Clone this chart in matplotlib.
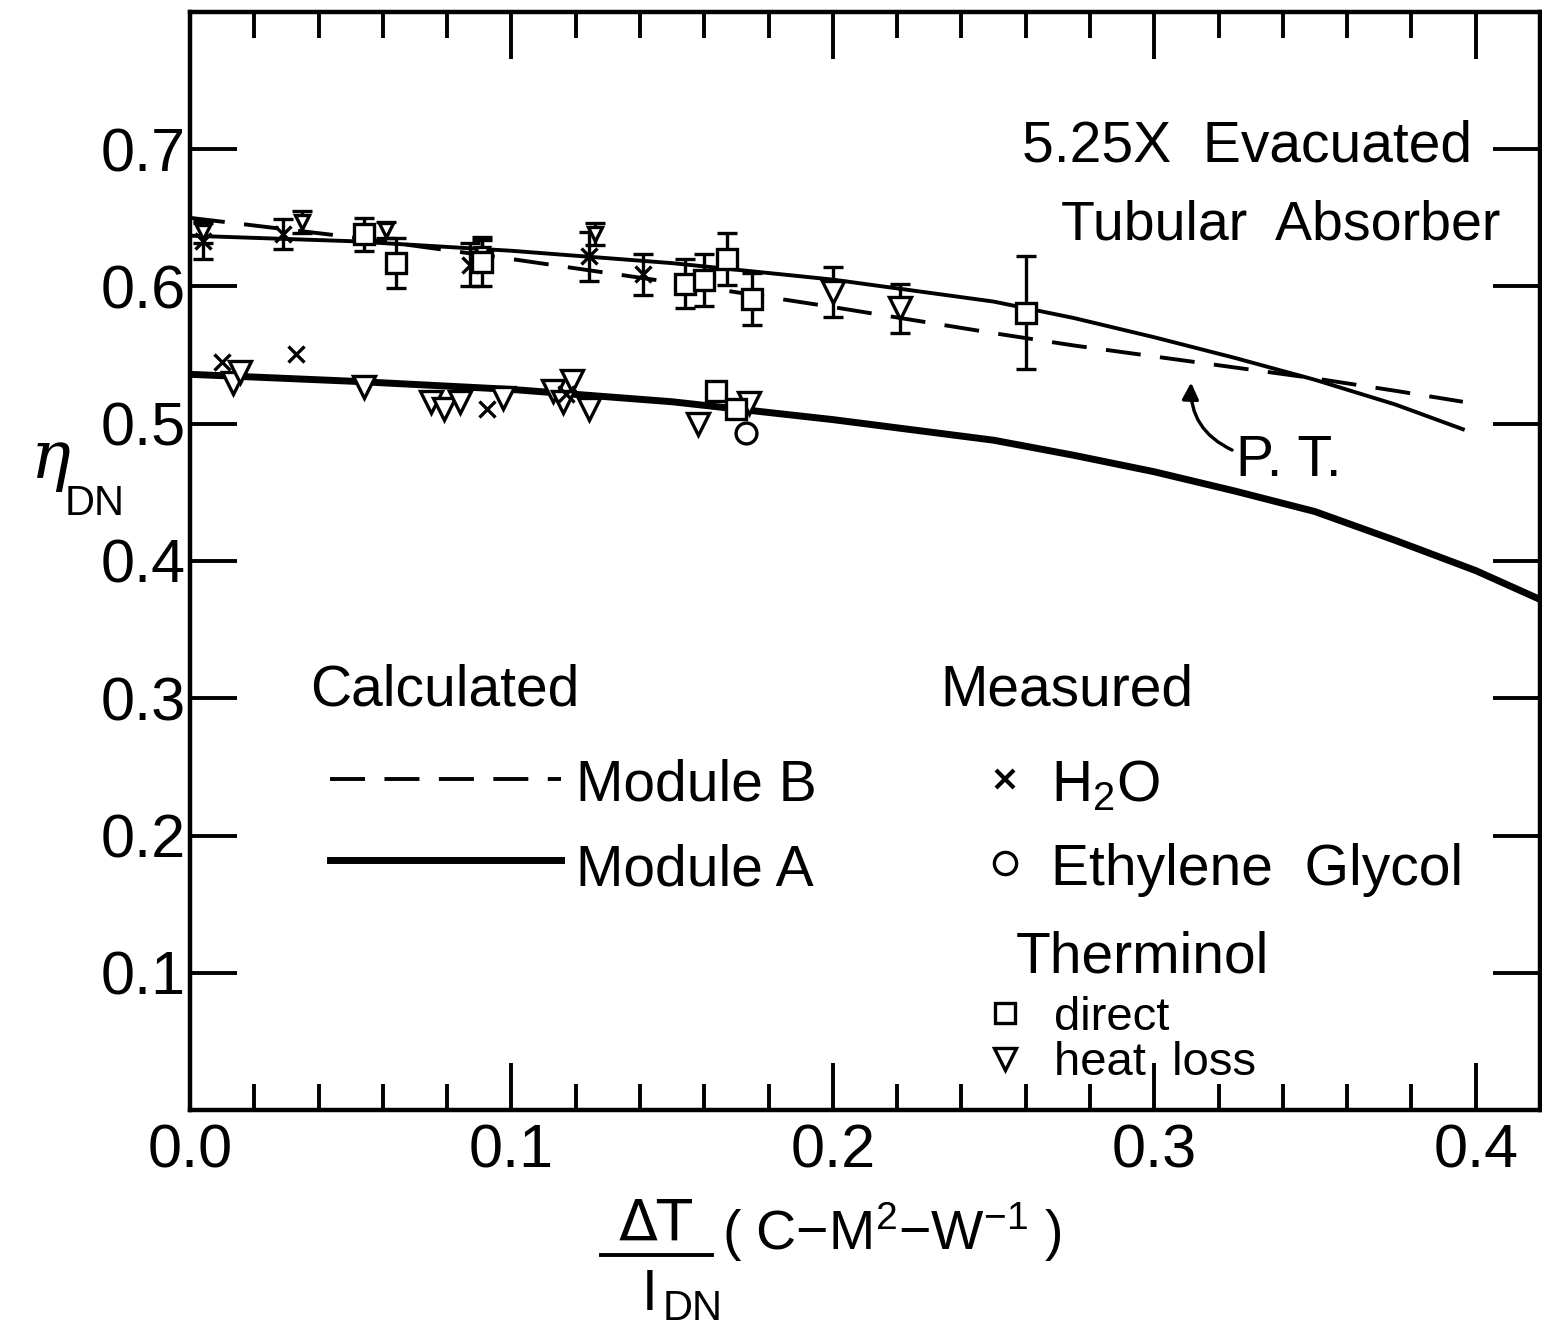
import matplotlib
matplotlib.use("Agg")
import matplotlib.pyplot as plt
from matplotlib.lines import Line2D

FONT = ['Liberation Sans Narrow', 'Liberation Sans', 'DejaVu Sans']
plt.rcParams['font.family'] = FONT
plt.rcParams['mathtext.fontset'] = 'custom'
plt.rcParams['mathtext.rm'] = 'Liberation Sans'
plt.rcParams['mathtext.it'] = 'Liberation Sans:italic'

# calculated curves
curve_x = [0.0, 0.05, 0.10, 0.15, 0.20, 0.25, 0.275, 0.30, 0.325, 0.35,
           0.375, 0.40, 0.42]
module_a_low = [0.536, 0.531, 0.525, 0.516, 0.503, 0.488, 0.477, 0.465,
                0.451, 0.436, 0.415, 0.393, 0.372]

upper_x = [0.0, 0.05, 0.10, 0.15, 0.20, 0.25, 0.275, 0.30, 0.325, 0.35,
           0.375, 0.396]
module_a_up = [0.637, 0.633, 0.626, 0.617, 0.605, 0.589, 0.577, 0.563,
               0.548, 0.532, 0.514, 0.496]
module_b = [0.650, 0.636, 0.620, 0.603, 0.585, 0.566, 0.557, 0.549,
            0.541, 0.533, 0.524, 0.516]

# measured, upper group (with error bars)
h2o_up_x = [0.004, 0.029, 0.087, 0.124, 0.141]
h2o_up_y = [0.633, 0.638, 0.616, 0.622, 0.609]
h2o_up_err = [0.013, 0.011, 0.016, 0.018, 0.015]

sq_up_x = [0.054, 0.064, 0.091, 0.154, 0.160, 0.167, 0.175, 0.260]
sq_up_y = [0.638, 0.617, 0.618, 0.602, 0.605, 0.620, 0.591, 0.581]
sq_up_err = [0.012, 0.018, 0.018, 0.018, 0.019, 0.019, 0.019, 0.041]

tri_up_x = [0.004, 0.035, 0.061, 0.091, 0.126]
tri_up_y = [0.640, 0.647, 0.641, 0.624, 0.638]
tri_up_err = [0.008, 0.008, 0.006, 0.010, 0.008]

tri_big_x = [0.200, 0.221]
tri_big_y = [0.596, 0.584]
tri_big_err = [0.018, 0.018]

# measured, lower group
h2o_low_x = [0.010, 0.033, 0.0925, 0.117]
h2o_low_y = [0.545, 0.551, 0.511, 0.522]
tri_low_x = [0.0134, 0.0156, 0.054, 0.075, 0.079, 0.084, 0.0975, 0.113,
             0.119, 0.116, 0.124, 0.158, 0.174]
tri_low_y = [0.530, 0.538, 0.527, 0.516, 0.511, 0.516, 0.519, 0.524,
             0.531, 0.516, 0.511, 0.500, 0.515]
sq_low_x = [0.1636, 0.170]
sq_low_y = [0.524, 0.511]
eg_x = [0.173]
eg_y = [0.493]

x_ticks = [0.0, 0.1, 0.2, 0.3, 0.4]
x_labels = ['0.0', '0.1', '0.2', '0.3', '0.4']
y_ticks = [0.1, 0.2, 0.3, 0.4, 0.5, 0.6, 0.7]
y_labels = ['0.1', '0.2', '0.3', '0.4', '0.5', '0.6', '0.7']

fig = plt.figure(figsize=(15.42, 13.27), dpi=100)
ax = fig.add_axes([0.1232, 0.1635, 0.8755, 0.8275])

K = 'black'
ax.plot(curve_x, module_a_low, color=K, lw=5.0, solid_capstyle='butt')
ax.plot(upper_x, module_a_up, color=K, lw=2.8)
ax.plot(upper_x, module_b, color=K, lw=2.8, dashes=(9, 5))

eb = dict(color=K, mfc='white', mec=K, mew=2.4, elinewidth=2.4,
          capsize=7, capthick=2.4, ls='none', zorder=4)
ax.errorbar(h2o_up_x, h2o_up_y, yerr=h2o_up_err, fmt='x', ms=11, **eb)
ax.errorbar(tri_up_x, tri_up_y, yerr=tri_up_err, fmt='v', ms=10, **eb)
ax.errorbar(sq_up_x, sq_up_y, yerr=sq_up_err, fmt='s', ms=15, **eb)
ax.errorbar(tri_big_x, tri_big_y, yerr=tri_big_err, fmt='v', ms=16, **eb)

mk = dict(color=K, mfc='white', mec=K, mew=2.4, ls='none', zorder=4)
ax.plot(tri_low_x, tri_low_y, 'v', ms=16, **mk)
ax.plot(h2o_low_x, h2o_low_y, 'x', ms=12, **mk)
ax.plot(sq_low_x, sq_low_y, 's', ms=15, **mk)
ax.plot(eg_x, eg_y, 'o', ms=15, **mk)

ax.set_xlim(0, 0.42)
ax.set_ylim(0, 0.8)
ax.set_xticks(x_ticks)
ax.set_xticklabels(x_labels)
ax.set_xticks([i * 0.02 for i in range(22) if i % 5], minor=True)
ax.set_yticks(y_ticks)
ax.set_yticklabels(y_labels)
ax.tick_params(axis='x', which='major', direction='in', length=34, width=2.8,
               top=True, bottom=True, labelsize=44, pad=10)
ax.tick_params(axis='x', which='minor', direction='in', length=19, width=2.8,
               top=True, bottom=True)
ax.tick_params(axis='y', which='major', direction='in', length=34, width=2.8,
               left=True, right=True, labelsize=44, pad=3)
for s in ax.spines.values():
    s.set_linewidth(3.2)

# annotations
ax.text(0.259, 0.691, '5.25X  Evacuated', fontsize=41)
ax.text(0.271, 0.634, 'Tubular  Absorber', fontsize=40)
ax.text(0.3255, 0.462, 'P. T.', fontsize=41)
ax.annotate('', xy=(0.3115, 0.532), xytext=(0.325, 0.480),
            arrowprops=dict(arrowstyle='-|>', color=K, lw=2.4,
                            mutation_scale=25,
                            connectionstyle='arc3,rad=-0.35'))

# legend block (drawn by hand like the original)
ax.text(0.0374, 0.2945, 'Calculated', fontsize=41)
ax.text(0.2336, 0.2945, 'Measured', fontsize=41)
ax.add_line(Line2D([0.0436, 0.1153], [0.2415, 0.2415], color=K, lw=2.8,
                   dashes=(9, 5)))
ax.add_line(Line2D([0.0436, 0.1153], [0.182, 0.182], color=K, lw=5.0))
ax.text(0.120, 0.2255, 'Module B', fontsize=41)
ax.text(0.120, 0.1636, 'Module A', fontsize=41)
ax.add_line(Line2D([0.2537], [0.2415], marker='x', ms=13, mew=3, color=K))
ax.add_line(Line2D([0.2535], [0.180], marker='o', ms=16, mew=2.4, color=K,
                   mfc='white'))
ax.add_line(Line2D([0.2535], [0.0705], marker='s', ms=15, mew=2.4, color=K,
                   mfc='white'))
ax.add_line(Line2D([0.2535], [0.0375], marker='v', ms=16, mew=2.4, color=K,
                   mfc='white'))
ax.text(0.268, 0.2255, 'H$_2$O', fontsize=41)
ax.text(0.268, 0.1636, 'Ethylene  Glycol', fontsize=41)
ax.text(0.257, 0.1004, 'Therminol', fontsize=41)
ax.text(0.2688, 0.058, 'direct', fontsize=34)
ax.text(0.2688, 0.0255, 'heat  loss', fontsize=34)

# axis labels
fig.text(0.020, 0.640, '\u03b7', fontsize=48, style='italic',
         family=['DejaVu Serif'])
fig.text(0.042, 0.612, 'DN', fontsize=30)
fig.text(0.425, 0.065, '\u0394T', fontsize=41, ha='center',
         family=['DejaVu Sans'])
fig.add_artist(Line2D([0.390, 0.462], [0.054, 0.054], color=K, lw=2.8))
fig.text(0.416, 0.013, 'I', fontsize=41)
fig.text(0.430, 0.005, 'DN', fontsize=30)
fig.text(0.468, 0.058, '( C$-$M$^2$$-$W$^{-1}$ )', fontsize=40)

fig.savefig('out.png', dpi=100)
